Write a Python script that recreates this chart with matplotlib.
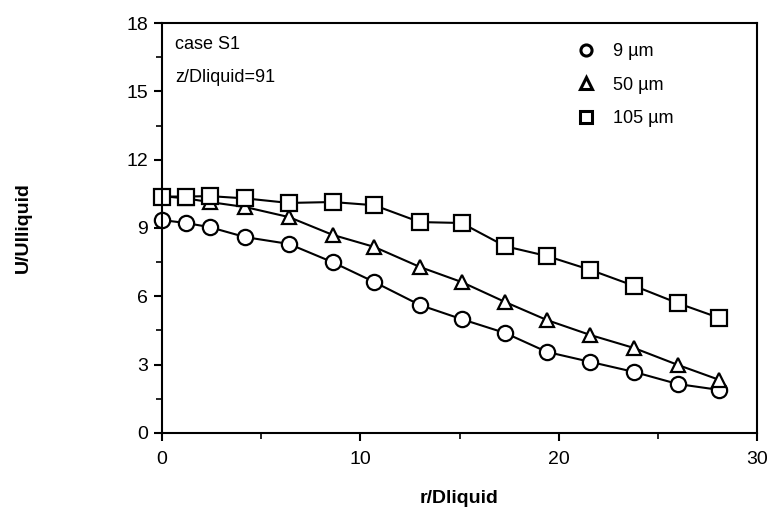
import matplotlib
matplotlib.use("Agg")
import matplotlib.pyplot as plt
from matplotlib.lines import Line2D
from matplotlib.ticker import MultipleLocator

plt.rcParams['font.family'] = ['Liberation Sans', 'DejaVu Sans']

# radial positions r/Dliquid
r = [0.0, 1.2, 2.4, 4.2, 6.4, 8.6, 10.7, 13.0, 15.1, 17.3, 19.4, 21.6, 23.8, 26.0, 28.1]

# normalised mean velocity per droplet size class
u_9 = [9.35, 9.22, 9.04, 8.6, 8.3, 7.5, 6.63, 5.62, 5.0, 4.39, 3.56, 3.12, 2.68, 2.15, 1.89]
u_50 = [10.4, 10.3, 10.14, 9.92, 9.48, 8.7, 8.17, 7.29, 6.63, 5.75, 4.96, 4.3, 3.73, 2.99, 2.33]
u_105 = [10.38, 10.38, 10.4, 10.3, 10.1, 10.14, 10.0, 9.26, 9.22, 8.2, 7.77, 7.16, 6.46, 5.7, 5.05]

labels = ["9 \u00b5m", "50 \u00b5m", "105 \u00b5m"]
markers = ["o", "^", "s"]

fig = plt.figure(figsize=(7.71, 5.17), dpi=100)
ax = fig.add_axes([0.21, 0.1625, 0.772, 0.793])

for u, m in zip([u_9, u_50, u_105], markers):
    ax.plot(r, u, color="black", lw=1.5, marker=m, ms=11 if m != "^" else 10,
            mfc="white", mec="black", mew=1.6, clip_on=False)

ax.set_xlim(0, 30)
ax.set_ylim(0, 18)
ax.xaxis.set_major_locator(MultipleLocator(10))
ax.xaxis.set_minor_locator(MultipleLocator(5))
ax.yaxis.set_major_locator(MultipleLocator(3))
ax.yaxis.set_minor_locator(MultipleLocator(1.5))
ax.tick_params(which="major", direction="out", length=6, width=1.5, labelsize=14, pad=4)
ax.tick_params(axis="x", which="major", pad=7)
ax.tick_params(which="minor", direction="out", length=4, width=1.2)
for s in ax.spines.values():
    s.set_linewidth(1.5)

ax.set_xlabel("r/Dliquid", fontsize=14, fontweight="bold", labelpad=16)
ax.set_ylabel("U/Ulliquid", fontsize=14, fontweight="bold", labelpad=68)

ax.text(0.022, 0.948, "case S1", transform=ax.transAxes, fontsize=13, va="center")
ax.text(0.022, 0.868, "z/Dliquid=91", transform=ax.transAxes, fontsize=13, va="center")

handles = [Line2D([], [], ls="none", marker=m, ms=8, mfc="white",
                  mec="black", mew=2.2) for m in markers]
ax.legend(handles, labels, loc="upper left", bbox_to_anchor=(0.67, 0.99), frameon=False,
          fontsize=13, handlelength=1.0, handletextpad=1.0, labelspacing=0.9)

fig.savefig("out.png", dpi=100)
